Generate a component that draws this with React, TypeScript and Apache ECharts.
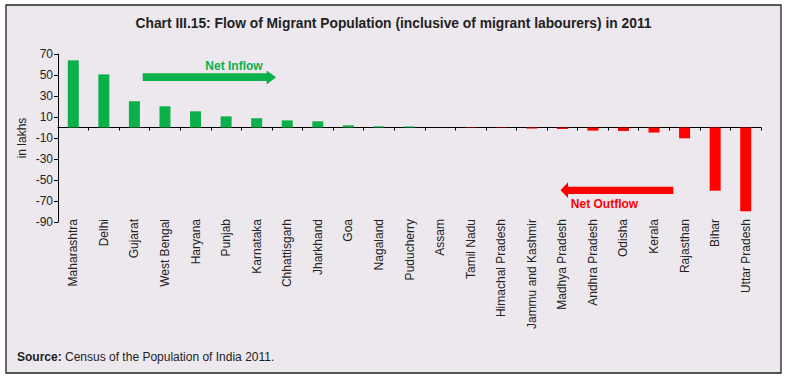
import React, { useEffect, useRef } from "react";
import * as echarts from "echarts";

const categories: string[] = [
  "Maharashtra", "Delhi", "Gujarat", "West Bengal", "Haryana", "Punjab", "Karnataka",
  "Chhattisgarh", "Jharkhand", "Goa", "Nagaland", "Puducherry", "Assam", "Tamil Nadu",
  "Himachal Pradesh", "Jammu and Kashmir", "Madhya Pradesh", "Andhra Pradesh", "Odisha",
  "Kerala", "Rajasthan", "Bihar", "Uttar Pradesh",
];
const netFlow: number[] = [
  64, 50.6, 25, 20.2, 15.4, 10.6, 8.7, 6.8, 5.9, 2.1, 1.1, 1.0, -0.1, -0.4,
  -0.4, -1, -1.4, -3, -3.3, -4.8, -10.3, -60.2, -79.8,
];
const yTicks: number[] = [-90, -70, -50, -30, -10, 10, 30, 50, 70];

const GREEN = "#0BB04B";
const RED = "#FF0000";
const FONT = "'Liberation Sans', Arial, sans-serif";

export default function App() {
  const ref = useRef<HTMLDivElement>(null);
  useEffect(() => {
    if (!ref.current) return;
    const chart = echarts.init(ref.current, undefined, { renderer: "svg" });
    chart.setOption({
      animation: false,
      backgroundColor: "#ffffff",
      title: {
        text: "Chart III.15: Flow of Migrant Population (inclusive of migrant labourers) in 2011",
        left: "center",
        top: 11,
        textStyle: {
          fontFamily: "'Liberation Sans Narrow', 'Arial Narrow', " + FONT,
          fontWeight: "bold",
          fontSize: 13.8,
          color: "#222",
        },
      },
      grid: {
        left: 58, right: 26, top: 54, bottom: 157,
        containLabel: false, outerBoundsMode: "none",
      },
      xAxis: {
        type: "category",
        data: categories,
        axisLine: { onZero: true, lineStyle: { color: "#000", width: 1 } },
        axisTick: { show: true, length: 3, inside: false, lineStyle: { color: "#000" } },
        axisLabel: {
          rotate: 90,
          margin: -3,
          interval: 0,
          fontFamily: FONT,
          fontSize: 12,
          color: "#222",
        },
        splitLine: { show: false },
      },
      yAxis: {
        type: "value",
        min: -90,
        max: 70,
        interval: 20,
        name: "in lakhs",
        nameLocation: "middle",
        nameGap: 30,
        nameMoveOverlap: false,
        nameTextStyle: { fontFamily: FONT, fontSize: 12, color: "#222" },
        axisLine: { show: true, lineStyle: { color: "#000", width: 1 } },
        axisTick: { show: true, length: 4, customValues: yTicks, lineStyle: { color: "#000" } },
        axisLabel: {
          customValues: yTicks,
          margin: 5,
          fontFamily: FONT,
          fontSize: 12,
          color: "#222",
        },
        splitLine: { show: false },
      },
      series: [
        {
          type: "bar",
          data: netFlow,
          barWidth: 11,
          itemStyle: {
            color: (p: any) => (p.value >= 0 ? GREEN : RED),
          },
        },
      ],
      graphic: [
        {
          type: "rect",
          z: -10,
          silent: true,
          shape: { x: 6, y: 5, width: 775, height: 368 },
          style: { fill: "#EDE8EE", stroke: "#222", lineWidth: 1.3 },
        },
        {
          type: "polygon",
          silent: true,
          shape: {
            points: [
              [142.7, 73.3], [266.7, 73.3], [266.7, 70.5], [276, 77.2],
              [266.7, 84.5], [266.7, 81], [142.7, 81],
            ],
          },
          style: { fill: GREEN },
        },
        {
          type: "text",
          silent: true,
          x: 234,
          y: 65.5,
          style: {
            text: "Net Inflow",
            fill: GREEN,
            font: "bold 12px " + FONT,
            textAlign: "center",
            textVerticalAlign: "middle",
          },
        },
        {
          type: "polygon",
          silent: true,
          shape: {
            points: [
              [673.3, 186.7], [568, 186.7], [568, 182.3], [560.5, 190.3],
              [568, 197.9], [568, 194], [673.3, 194],
            ],
          },
          style: { fill: RED },
        },
        {
          type: "text",
          silent: true,
          x: 604.5,
          y: 204.3,
          style: {
            text: "Net Outflow",
            fill: RED,
            font: "bold 12px " + FONT,
            textAlign: "center",
            textVerticalAlign: "middle",
          },
        },
        {
          type: "text",
          silent: true,
          x: 17,
          y: 357,
          style: {
            text: "{b|Source:} Census of the Population of India 2011.",
            font: "12px " + FONT,
            fill: "#222",
            textVerticalAlign: "middle",
            rich: {
              b: { fontWeight: "bold", fontFamily: FONT, fontSize: 12, fill: "#222" },
            },
          },
        },
      ],
    });
    return () => chart.dispose();
  }, []);
  return (
    <div
      ref={ref}
      style={{ position: "fixed", left: 0, top: 0, width: 787, height: 379 }}
    />
  );
}
